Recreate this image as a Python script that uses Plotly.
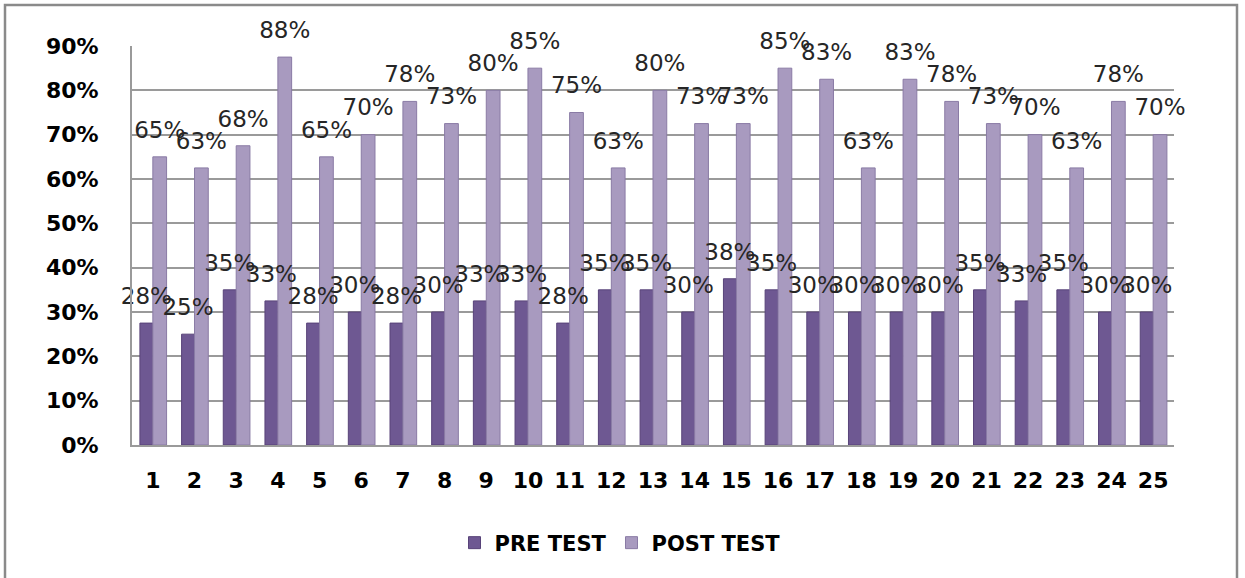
import plotly.graph_objects as go

categories = [str(i) for i in range(1, 26)]
pre_test = [0.275, 0.25, 0.35, 0.325, 0.275, 0.30, 0.275, 0.30, 0.325, 0.325, 0.275, 0.35, 0.35,
            0.30, 0.375, 0.35, 0.30, 0.30, 0.30, 0.30, 0.35, 0.325, 0.35, 0.30, 0.30]
post_test = [0.65, 0.625, 0.675, 0.875, 0.65, 0.70, 0.775, 0.725, 0.80, 0.85, 0.75, 0.625, 0.80,
             0.725, 0.725, 0.85, 0.825, 0.625, 0.825, 0.775, 0.725, 0.70, 0.625, 0.775, 0.70]
pre_labels = ["28%", "25%", "35%", "33%", "28%", "30%", "28%", "30%", "33%", "33%", "28%", "35%", "35%",
              "30%", "38%", "35%", "30%", "30%", "30%", "30%", "35%", "33%", "35%", "30%", "30%"]
post_labels = ["65%", "63%", "68%", "88%", "65%", "70%", "78%", "73%", "80%", "85%", "75%", "63%", "80%",
               "73%", "73%", "85%", "83%", "63%", "83%", "78%", "73%", "70%", "63%", "78%", "70%"]
y_ticks = [0, 0.1, 0.2, 0.3, 0.4, 0.5, 0.6, 0.7, 0.8, 0.9]

PRE_COLOR = "#6E5892"
POST_COLOR = "#A89ABF"
label_font = dict(family="DejaVu Sans", size=23, color="#262626")
tick_font = dict(family="DejaVu Sans", size=22, color="black", weight="bold")

xpos = list(range(1, len(categories) + 1))
PRE_OFF, PRE_W = -0.31, 0.31
POST_OFF, POST_W = 0.0, 0.33
pre_text_x = [p + PRE_OFF + PRE_W / 2 for p in xpos]
post_text_x = [p + POST_OFF + POST_W / 2 for p in xpos]

fig = go.Figure()
fig.add_trace(go.Bar(
    x=xpos, y=pre_test, name="PRE TEST", offset=PRE_OFF, width=PRE_W,
    marker=dict(color=PRE_COLOR, line=dict(color="#584379", width=1)),
))
fig.add_trace(go.Bar(
    x=xpos, y=post_test, name="POST TEST", offset=POST_OFF, width=POST_W,
    marker=dict(color=POST_COLOR, line=dict(color="#8A7BA5", width=1)),
))
fig.add_trace(go.Scatter(
    x=pre_text_x, y=pre_test, mode="markers+text", text=pre_labels,
    textposition="top center", textfont=label_font,
    marker=dict(size=20, opacity=0), showlegend=False, hoverinfo="skip", cliponaxis=False,
))
fig.add_trace(go.Scatter(
    x=post_text_x, y=post_test, mode="markers+text", text=post_labels,
    textposition="top center", textfont=label_font,
    marker=dict(size=20, opacity=0), showlegend=False, hoverinfo="skip", cliponaxis=False,
))

L, R, T, B = 132, 71, 46, 133
W, H = 1245, 578
pw, ph = W - L - R, H - T - B

fig.update_layout(
    width=W, height=H,
    margin=dict(l=L, r=R, t=T, b=B),
    paper_bgcolor="white", plot_bgcolor="white",
    font=dict(family="DejaVu Sans", color="black"),
    legend=dict(orientation="h", x=(620 - L) / pw, xanchor="center",
                y=(H - B - 543) / ph, yanchor="middle",
                font=dict(family="DejaVu Sans", size=21, color="black", weight="bold"),
                itemwidth=30, traceorder="normal"),
    xaxis=dict(
        range=[0.5, len(categories) + 0.5],
        tickvals=xpos, ticktext=categories,
        showgrid=False, showline=True, linecolor="#9a9a9a", linewidth=2,
        tickfont=tick_font, ticks="", ticklabelstandoff=15, zeroline=False,
    ),
    yaxis=dict(
        range=[0, 0.9], tickvals=y_ticks, tickformat=".0%",
        showgrid=True, gridcolor="#9a9a9a", gridwidth=2,
        showline=True, linecolor="#9a9a9a", linewidth=2,
        zeroline=False,
        tickfont=tick_font, ticks="", ticklabelstandoff=27,
    ),
    shapes=[dict(
        type="rect", xref="paper", yref="paper",
        x0=(5 - L) / pw, x1=(1237 - L) / pw,
        y0=(H - B - 620) / ph, y1=(H - B - 5) / ph,
        line=dict(color="#8a8a8a", width=2.5), layer="below",
    )],
)

fig.write_html("out.html", config={"displayModeBar": False},
               post_script="document.body.style.margin='0';")
